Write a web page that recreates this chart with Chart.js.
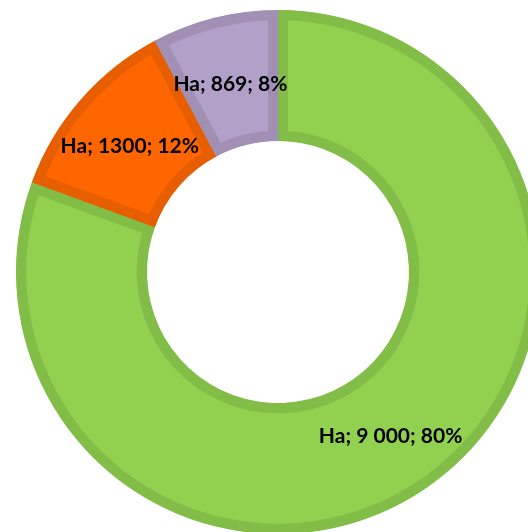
<!DOCTYPE html>
<html>
<head>
<meta charset="utf-8">
<script src="https://cdn.jsdelivr.net/npm/chart.js@4"></script>
<style>
html,body{margin:0;padding:0;background:#fff;overflow:hidden;width:528px;height:532px;}
#wrap{position:absolute;left:0;top:0;width:556px;height:544px;}
</style>
</head>
<body>
<div id="wrap"><canvas id="c" width="556" height="544"></canvas></div>
<script>
const seriesName = "Ha";
const categories = ["A", "B", "C"];
const values = [9000, 1300, 869];
const valueLabels = ["9 000", "1300", "869"];
const percentLabels = ["80%", "12%", "8%"];
const fillColors = ["#92D050", "#FF6600", "#B1A0C7"];
const borderColors = ["#82BD48", "#E65E00", "#A190B3"];

const labelPlugin = {
  id: 'sliceLabels',
  afterDatasetsDraw(chart) {
    const ctx = chart.ctx;
    const meta = chart.getDatasetMeta(0);
    ctx.save();
    ctx.font = "bold 21px Lato";
    ctx.fillStyle = "#000";
    ctx.textAlign = "center";
    ctx.textBaseline = "middle";
    meta.data.forEach((arc, i) => {
      const p = arc.getCenterPoint();
      const txt = seriesName + "; " + valueLabels[i] + "; " + percentLabels[i];
      ctx.fillText(txt, p.x, p.y + 3);
    });
    ctx.restore();
  }
};

new Chart(document.getElementById('c'), {
  type: 'doughnut',
  data: {
    labels: categories,
    datasets: [{
      data: values,
      backgroundColor: fillColors,
      borderColor: borderColors,
      borderWidth: 10,
      borderAlign: 'inner',
      hoverOffset: 0
    }]
  },
  options: {
    responsive: false,
    animation: false,
    cutout: '50%',
    layout: { padding: { left: 5, right: 5, top: 10, bottom: 10 } },
    plugins: { legend: { display: false }, tooltip: { enabled: false } }
  },
  plugins: [labelPlugin]
});
</script>
</body>
</html>
